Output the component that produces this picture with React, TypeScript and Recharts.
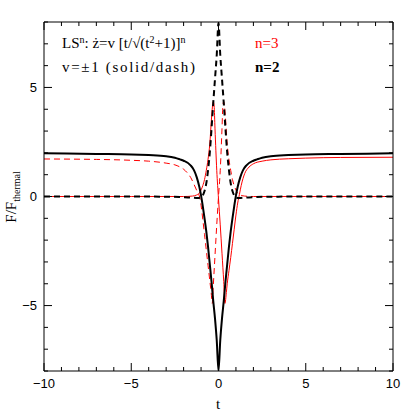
import React from 'react';
import { LineChart, Line, XAxis, YAxis } from 'recharts';

// n=2, v=+1 (solid black)
const tN2Solid = [-10, -7, -5, -4, -3, -2.5, -2.2, -2, -1.6, -1.4, -1.25, -1.1, -1.0, -0.9, -0.8, -0.7, -0.6, -0.5, -0.4, -0.3, -0.2, -0.1, 0, 0.1, 0.2, 0.3, 0.4, 0.5, 0.6, 0.7, 0.8, 0.9, 1.0, 1.1, 1.25, 1.4, 1.6, 2, 2.2, 2.5, 3, 4, 5, 7, 10];
const fN2Solid = [1.98, 1.95, 1.93, 1.9, 1.85, 1.78, 1.7, 1.64, 1.43, 1.2, 0.89, 0.45, 0.05, -0.45, -1.0, -1.6, -2.3, -3.1, -3.9, -4.8, -5.6, -6.6, -8.0, -6.6, -5.6, -4.8, -3.9, -3.1, -2.3, -1.6, -1.0, -0.45, 0.05, 0.45, 0.89, 1.2, 1.43, 1.64, 1.7, 1.78, 1.85, 1.9, 1.93, 1.95, 1.98];

// n=2, v=-1 (dashed black)
const tN2Dash = [-10, -5, -3, -2, -1.5, -1.2, -1.0, -0.9, -0.8, -0.7, -0.6, -0.5, -0.4, -0.3, -0.2, -0.1, 0, 0.1, 0.2, 0.3, 0.4, 0.5, 0.6, 0.7, 0.8, 0.9, 1.0, 1.2, 1.5, 2, 3, 5, 10];
const fN2Dash = [0, 0, -0.01, -0.03, -0.05, -0.07, -0.05, 0.05, 0.25, 0.6, 1.2, 2.0, 3.1, 4.3, 5.4, 6.5, 7.95, 6.5, 5.4, 4.3, 3.1, 2.0, 1.2, 0.6, 0.25, 0.05, -0.05, -0.07, -0.05, -0.03, -0.01, 0, 0];

// n=3, v=+1 (solid red)
const tN3Solid = [-10, -5, -3, -2, -1.5, -1.25, -1.1, -1.0, -0.9, -0.8, -0.7, -0.6, -0.5, -0.4, -0.35, -0.3, -0.25, -0.2, -0.1, 0, 0.1, 0.2, 0.3, 0.37, 0.45, 0.5, 0.6, 0.7, 0.8, 0.9, 1.0, 1.1, 1.2, 1.3, 1.5, 1.75, 2, 2.5, 3, 4, 5, 7, 10];
const fN3Solid = [0, 0, 0, 0, 0.02, 0.07, 0.15, 0.3, 0.5, 0.78, 1.2, 1.7, 2.4, 3.6, 4.1, 4.35, 4.15, 3.1, 1.2, -0.1, -1.3, -2.6, -3.9, -4.9, -4.4, -4.0, -3.4, -2.8, -2.15, -1.5, -0.85, -0.3, 0.1, 0.5, 1.05, 1.35, 1.5, 1.62, 1.68, 1.73, 1.76, 1.79, 1.8];

// n=3, v=-1 (dashed red)
const tN3Dash = [-10, -7, -5, -4, -3, -2.5, -2.2, -2, -1.75, -1.6, -1.4, -1.25, -1.15, -1.1, -1.0, -0.9, -0.8, -0.7, -0.6, -0.5, -0.42, -0.36, -0.3, -0.2, -0.1, 0, 0.1, 0.2, 0.25, 0.3, 0.35, 0.4, 0.5, 0.6, 0.7, 0.8, 0.9, 1.0, 1.1, 1.25, 1.5, 2, 3, 5, 10];
const fN3Dash = [1.72, 1.7, 1.66, 1.62, 1.53, 1.45, 1.35, 1.25, 1.05, 0.88, 0.55, 0.28, 0.12, 0.03, -0.4, -1.05, -1.75, -2.45, -3.15, -3.85, -4.4, -4.9, -4.1, -2.7, -1.3, 0.0, 1.2, 3.1, 4.15, 4.35, 4.1, 3.6, 2.4, 1.7, 1.2, 0.78, 0.5, 0.3, 0.15, 0.07, 0.02, 0, 0, 0, 0];

const xTicks = [-10, -9, -8, -7, -6, -5, -4, -3, -2, -1, 0, 1, 2, 3, 4, 5, 6, 7, 8, 9, 10];
const yTicks = [-8, -7, -6, -5, -4, -3, -2, -1, 0, 1, 2, 3, 4, 5, 6, 7, 8];
const majorStep = 5;

const zip = (ts: number[], fs: number[]) => ts.map((t, i) => ({ t, f: fs[i] }));
const dN2Solid = zip(tN2Solid, fN2Solid);
const dN2Dash = zip(tN2Dash, fN2Dash);
const dN3Solid = zip(tN3Solid, fN3Solid);
const dN3Dash = zip(tN3Dash, fN3Dash);

const fmt = (v: number) => (v < 0 ? '\u2212' + Math.abs(v) : String(v));
const isMajor = (v: number) => Math.abs(v % majorStep) < 1e-9;
const tickFont = { fontFamily: 'Liberation Sans, Arial, sans-serif', fontSize: 13, fill: '#000' };

const BottomTick = (p: any) => {
  const { x, y, payload } = p;
  const m = isMajor(payload.value);
  return (
    <g>
      <line x1={x} y1={y} x2={x} y2={y - (m ? 8 : 4)} stroke="#000" strokeWidth={1} />
      {m && (
        <text x={x} y={y + 17} textAnchor="middle" {...tickFont}>
          {fmt(payload.value)}
        </text>
      )}
    </g>
  );
};
const TopTick = (p: any) => {
  const { x, y, payload } = p;
  const m = isMajor(payload.value);
  return <line x1={x} y1={y} x2={x} y2={y + (m ? 8 : 4)} stroke="#000" strokeWidth={1} />;
};
const LeftTick = (p: any) => {
  const { x, y, payload } = p;
  const m = isMajor(payload.value);
  return (
    <g>
      <line x1={x} y1={y} x2={x + (m ? 8 : 4)} y2={y} stroke="#000" strokeWidth={1} />
      {m && (
        <text x={x - 7} y={y + 4.5} textAnchor="end" {...tickFont}>
          {fmt(payload.value)}
        </text>
      )}
    </g>
  );
};
const RightTick = (p: any) => {
  const { x, y, payload } = p;
  const m = isMajor(payload.value);
  return <line x1={x} y1={y} x2={x - (m ? 8 : 4)} y2={y} stroke="#000" strokeWidth={1} />;
};

const serif = 'Liberation Serif, Times New Roman, serif';

export default function App() {
  return (
    <div style={{ position: 'absolute', left: 0, top: 0, width: 415, height: 415, background: '#fff' }}>
      <LineChart width={415} height={415} margin={{ top: 0, right: 0, bottom: 0, left: 0 }}>
        <XAxis xAxisId="b" dataKey="t" type="number" domain={[-10, 10]} ticks={xTicks} orientation="bottom" height={44}
          allowDataOverflow tickSize={0} tickMargin={0} tickLine={false} tick={<BottomTick />} interval={0}
          axisLine={{ stroke: '#000', strokeWidth: 1 }} />
        <XAxis xAxisId="top" dataKey="t" type="number" domain={[-10, 10]} ticks={xTicks} orientation="top" height={22}
          allowDataOverflow tickSize={0} tickMargin={0} tickLine={false} tick={<TopTick />} interval={0}
          axisLine={{ stroke: '#000', strokeWidth: 1 }} />
        <YAxis yAxisId="l" type="number" domain={[-8, 8]} ticks={yTicks} orientation="left" width={44}
          allowDataOverflow tickSize={0} tickMargin={0} tickLine={false} tick={<LeftTick />} interval={0}
          axisLine={{ stroke: '#000', strokeWidth: 1 }} />
        <YAxis yAxisId="r" type="number" domain={[-8, 8]} ticks={yTicks} orientation="right" width={22}
          allowDataOverflow tickSize={0} tickMargin={0} tickLine={false} tick={<RightTick />} interval={0}
          axisLine={{ stroke: '#000', strokeWidth: 1 }} />
        <Line xAxisId="b" yAxisId="l" data={dN3Dash} dataKey="f" type="monotone" stroke="#ff0000" strokeWidth={1}
          strokeDasharray="6 4" dot={false} isAnimationActive={false} />
        <Line xAxisId="b" yAxisId="l" data={dN3Solid} dataKey="f" type="monotone" stroke="#ff0000" strokeWidth={1}
          dot={false} isAnimationActive={false} />
        <Line xAxisId="b" yAxisId="l" data={dN2Dash} dataKey="f" type="monotone" stroke="#000" strokeWidth={2}
          strokeDasharray="6 4" dot={false} isAnimationActive={false} />
        <Line xAxisId="b" yAxisId="l" data={dN2Solid} dataKey="f" type="monotone" stroke="#000" strokeWidth={2}
          dot={false} isAnimationActive={false} />
      </LineChart>
      <svg width={415} height={415} style={{ position: 'absolute', left: 0, top: 0, pointerEvents: 'none' }}>
        <text x={62} y={48} fontFamily={serif} fontSize={15} fill="#000">
          LS<tspan fontSize={10} dy={-5}>n</tspan>
          <tspan dy={5}>:  ż=v [t/√(t</tspan>
          <tspan fontSize={10} dy={-5}>2</tspan>
          <tspan dy={5}>+1)]</tspan>
          <tspan fontSize={10} dy={-5}>n</tspan>
        </text>
        <text x={62} y={72} fontFamily={serif} fontSize={15} fill="#000" textLength={133} lengthAdjust="spacing">
          v=±1 (solid/dash)
        </text>
        <text x={255} y={48} fontFamily={serif} fontSize={15} fill="#ff0000">n=3</text>
        <text x={255} y={72} fontFamily={serif} fontSize={15} fontWeight="bold" fill="#000">n=2</text>
        <text x={218} y={409} textAnchor="middle" fontFamily={serif} fontSize={15} fill="#000">t</text>
        <text transform="translate(16,197) rotate(-90)" textAnchor="middle" fontFamily={serif} fontSize={15} fill="#000">
          F/F<tspan fontSize={10} dy={4}>thermal</tspan>
        </text>
      </svg>
    </div>
  );
}
